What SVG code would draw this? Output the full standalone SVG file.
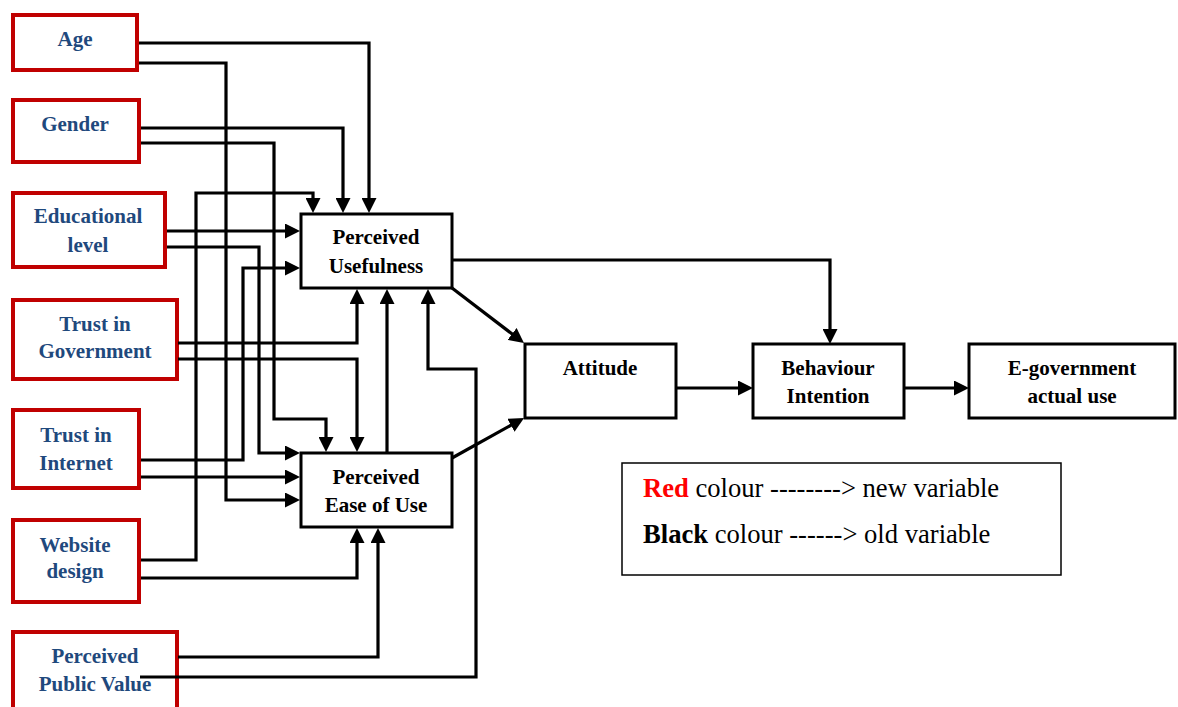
<svg xmlns="http://www.w3.org/2000/svg" width="1178" height="707" viewBox="0 0 1178 707">
<style>
.red{fill:#fff;stroke:#C00000;stroke-width:4}
.blk{fill:#fff;stroke:#000;stroke-width:3}
.lt{font-family:"Liberation Serif","Times New Roman",serif;font-weight:bold;font-size:21px;fill:#1F497D;text-anchor:middle}
.bt{font-family:"Liberation Serif","Times New Roman",serif;font-weight:bold;font-size:21px;fill:#000;text-anchor:middle}
.lg{font-family:"Liberation Serif","Times New Roman",serif;font-size:26.6px;fill:#000}
.c path{fill:none;stroke:#000;stroke-width:3.2;marker-end:url(#ah)}
</style>
<defs>
<marker id="ah" viewBox="0 0 15 15" refX="9" refY="7.5" markerWidth="15" markerHeight="15" markerUnits="userSpaceOnUse" orient="auto">
<path d="M0,0 L15,7.5 L0,15 z" fill="#000"/>
</marker>
</defs>
<rect width="1178" height="707" fill="#fff"/>

<g id="age"><rect class="red" x="13" y="15" width="124" height="55"/><text class="lt" x="75" y="46">Age</text></g>
<g id="gender"><rect class="red" x="13" y="100" width="126" height="62"/><text class="lt" x="75" y="131">Gender</text></g>
<g id="edu"><rect class="red" x="13" y="193" width="152" height="74"/><text class="lt" x="88" y="223">Educational</text><text class="lt" x="88" y="252">level</text></g>
<g id="tgov"><rect class="red" x="13" y="300" width="164" height="79"/><text class="lt" x="95" y="331">Trust in</text><text class="lt" x="95" y="358">Government</text></g>
<g id="tint"><rect class="red" x="13" y="410" width="126" height="78"/><text class="lt" x="76" y="442">Trust in</text><text class="lt" x="76" y="470">Internet</text></g>
<g id="web"><rect class="red" x="13" y="520" width="126" height="82"/><text class="lt" x="75" y="552">Website</text><text class="lt" x="75" y="578">design</text></g>
<g id="ppv"><rect class="red" x="13" y="632" width="164" height="80"/><text class="lt" x="95" y="663">Perceived</text><text class="lt" x="95" y="691">Public Value</text></g>

<g id="pu"><rect class="blk" x="301" y="214" width="151" height="74"/><text class="bt" x="376" y="244">Perceived</text><text class="bt" x="376" y="273">Usefulness</text></g>
<g id="peou"><rect class="blk" x="301" y="453" width="151" height="74"/><text class="bt" x="376" y="484">Perceived</text><text class="bt" x="376" y="512">Ease of Use</text></g>
<g id="att"><rect class="blk" x="525" y="344" width="151" height="74"/><text class="bt" x="600" y="375">Attitude</text></g>
<g id="bi"><rect class="blk" x="753" y="344" width="151" height="74"/><text class="bt" x="828" y="375">Behaviour</text><text class="bt" x="828" y="403">Intention</text></g>
<g id="eg"><rect class="blk" x="969" y="344" width="206" height="74"/><text class="bt" x="1072" y="375">E-government</text><text class="bt" x="1072" y="403">actual use</text></g>

<g id="legend">
<rect x="622" y="463" width="439" height="112" fill="#fff" stroke="#000" stroke-width="1.5"/>
<text class="lg" x="643" y="497"><tspan font-weight="bold" fill="#FF0000">Red</tspan> colour --------&gt; new variable</text>
<text class="lg" x="643" y="543"><tspan font-weight="bold">Black</tspan> colour ------&gt; old variable</text>
</g>

<g id="connectors" class="c">
<path d="M139,43 H369 V207"/>
<path d="M139,63 H226 V500 H294"/>
<path d="M141,128 H343 V207"/>
<path d="M141,143 H274 V419 H326 V446"/>
<path d="M141,560 H196 V193 H313 V207"/>
<path d="M167,231 H294"/>
<path d="M167,247 H259 V453 H294"/>
<path d="M141,460 H243 V268 H294"/>
<path d="M141,477 H294"/>
<path d="M178,343 H357 V295"/>
<path d="M178,359 H357 V446"/>
<path d="M387,452 V295"/>
<path d="M141,578 H357 V534"/>
<path d="M178,657 H378 V534"/>
<path d="M140,677 H476 V369 H428 V295"/>
<path d="M452,288 L519.2,339.4"/>
<path d="M452,458 L518.8,420.9"/>
<path d="M452,260 H830 V338"/>
<path d="M677,388 H747"/>
<path d="M905,388 H963"/>
</g>
</svg>
